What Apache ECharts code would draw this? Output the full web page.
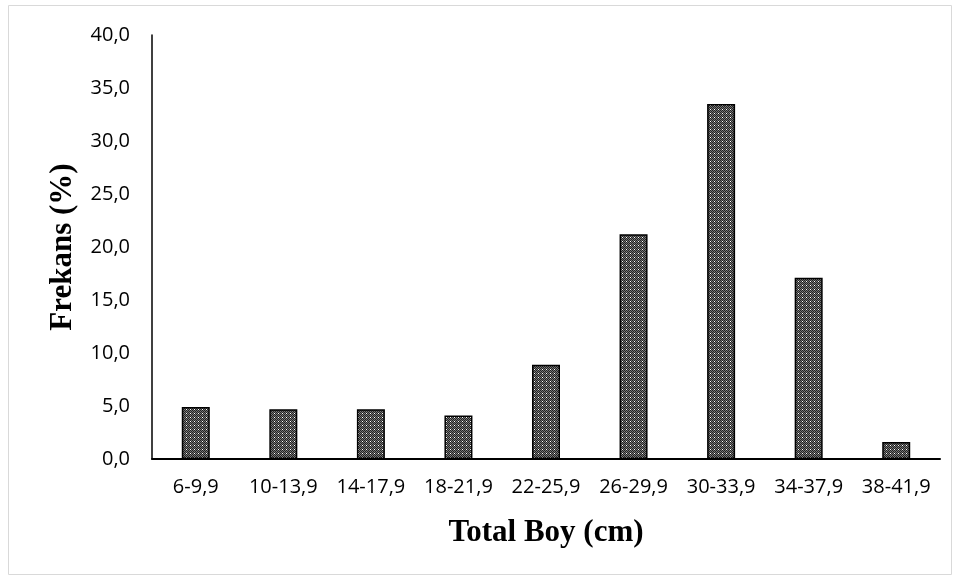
<!DOCTYPE html>
<html><head><meta charset="utf-8">
<script src="https://cdn.jsdelivr.net/npm/echarts@6/dist/echarts.min.js"></script>
<style>html,body{margin:0;padding:0;background:#fff}#c{width:960px;height:581px}</style>
</head><body><div id="c"></div>
<script>
var categories = ['6-9,9','10-13,9','14-17,9','18-21,9','22-25,9','26-29,9','30-33,9','34-37,9','38-41,9'];
var values = [4.9, 4.7, 4.7, 4.1, 8.9, 21.2, 33.5, 17.1, 1.6];
var yTicks = [0,5,10,15,20,25,30,35,40];

function makePattern(){
  var c = document.createElement('canvas');
  c.width = 8; c.height = 8;
  var g = c.getContext('2d');
  g.fillStyle = '#ffffff'; g.fillRect(0,0,8,8);
  g.fillStyle = '#222222';
  for (var y=0;y<8;y++) for (var x=0;x<8;x++) if ((x+y)%2===0) g.fillRect(x,y,1,1);
  g.fillStyle = '#777777';
  for (var y=0;y<8;y++) for (var x=0;x<8;x++) if ((x+y)%2===1 && (x%4!==2 || y%4!==1)) g.fillRect(x,y,1,1);
  g.fillStyle = '#ffffff';
  g.fillRect(2,1,1,1); g.fillRect(6,5,1,1);
  return c;
}

var chart = echarts.init(document.getElementById('c'));
chart.setOption({
  animation:false,
  graphic:[{type:'rect',shape:{x:8.5,y:5.5,width:943,height:569},style:{fill:'none',stroke:'#d9d9d9',lineWidth:1}}],
  grid:{left:152,right:20,top:35,bottom:122,containLabel:false},
  xAxis:{type:'category',data:categories,
    axisLine:{lineStyle:{color:'#000',width:2}},axisTick:{show:false},
    axisLabel:{color:'#000',fontFamily:'Open Sans',fontSize:20,margin:18,interval:0},
    name:'Total Boy (cm)',nameLocation:'middle',nameGap:58,
    nameTextStyle:{fontFamily:'Liberation Serif',fontWeight:'bold',fontSize:31,color:'#000',verticalAlign:'top'}},
  yAxis:{type:'value',min:0,max:40,interval:5,
    axisLine:{show:true,lineStyle:{color:'#000',width:1.5}},axisTick:{show:false},splitLine:{show:false},
    axisLabel:{color:'#000',fontFamily:'Open Sans',fontSize:20,margin:22,
      formatter:function(v){return v.toFixed(1).replace('.',',');}},
    name:'Frekans (%)',nameLocation:'middle',nameGap:74,nameRotate:90,
    nameTextStyle:{fontFamily:'Liberation Serif',fontWeight:'bold',fontSize:31,color:'#000'}},
  series:[{type:'bar',data:values,barWidth:28,
    itemStyle:{color:{image:makePattern(),repeat:'repeat'},borderColor:'#000',borderWidth:1.5}}]
});
</script></body></html>
